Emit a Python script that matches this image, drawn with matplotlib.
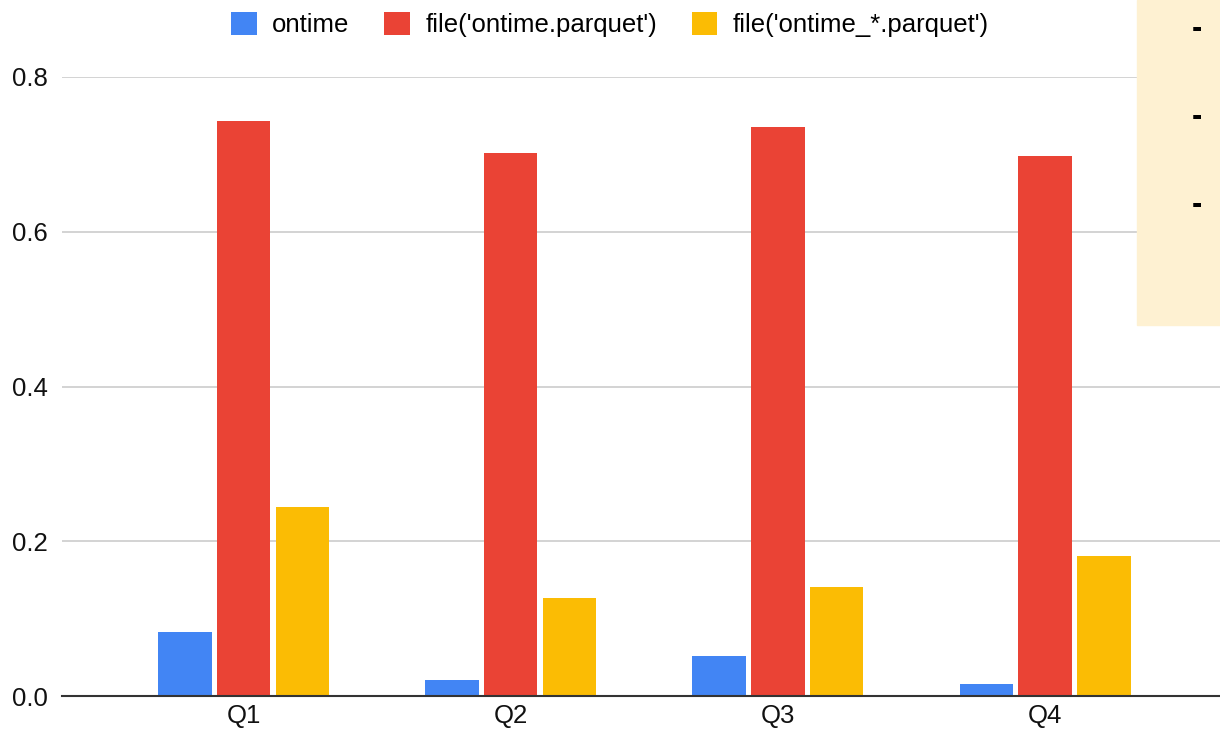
import numpy as np
import matplotlib
matplotlib.use("Agg")
import matplotlib.pyplot as plt
from matplotlib.patches import Rectangle

plt.rcParams["font.family"] = ["Liberation Sans", "DejaVu Sans"]

quarters = ["Q1", "Q2", "Q3", "Q4"]
series_names = ["ontime", "file('ontime.parquet')", "file('ontime_*.parquet')"]
ontime = [0.083, 0.021, 0.052, 0.016]
file_single = [0.743, 0.702, 0.735, 0.698]
file_glob = [0.244, 0.127, 0.141, 0.181]
colors = ["#4285F4", "#EA4335", "#FBBC04"]
yticks = [0.0, 0.2, 0.4, 0.6, 0.8]

W, H = 1220, 732
fig = plt.figure(figsize=(W / 100, H / 100), dpi=100)
ax = fig.add_axes([62 / W, 36 / H, (W - 62) / W, (696 - 77) / H])

x = np.arange(len(quarters))
bw = 0.2
step = 0.22
for i, (vals, name, c) in enumerate(zip([ontime, file_single, file_glob], series_names, colors)):
    ax.bar(x + (i - 1) * step, vals, width=bw, color=c, label=name, zorder=3)

ax.set_xlim(-0.68, 3.655)
ax.set_ylim(0, 0.8)
ax.set_yticks(yticks)
ax.set_yticklabels([f"{v:.1f}" for v in yticks], fontsize=18.5, color="#111111")
ax.set_xticks(x)
ax.set_xticklabels(quarters, fontsize=18.5, color="#111111")
ax.tick_params(axis="y", length=0, pad=10)
ax.tick_params(axis="x", length=0, pad=6)
ax.grid(axis="y", color="#cccccc", linewidth=1.2, zorder=0)
for s in ["top", "right", "left"]:
    ax.spines[s].set_visible(False)
ax.spines["bottom"].set_color("#333333")
ax.spines["bottom"].set_linewidth(1.5)
ax.spines["bottom"].set_zorder(4)

fig.legend(loc="upper center", bbox_to_anchor=(0.5, 1.015), ncol=3, frameon=False,
           fontsize=18.5, handlelength=1.0, handleheight=1.0, columnspacing=1.35,
           handletextpad=0.6)

# sticky note overlay on the right
fig.add_artist(Rectangle((1137 / W, 1 - 325 / H), (W - 1137) / W, 325 / H,
                         transform=fig.transFigure, color="#FEF1D2", zorder=10))
for yy in [29, 117, 205]:
    fig.text(1197 / W, 1 - yy / H, "-", ha="center", va="center", fontsize=22,
             fontweight="bold", color="black", zorder=11)

fig.savefig("out.png", dpi=100)
